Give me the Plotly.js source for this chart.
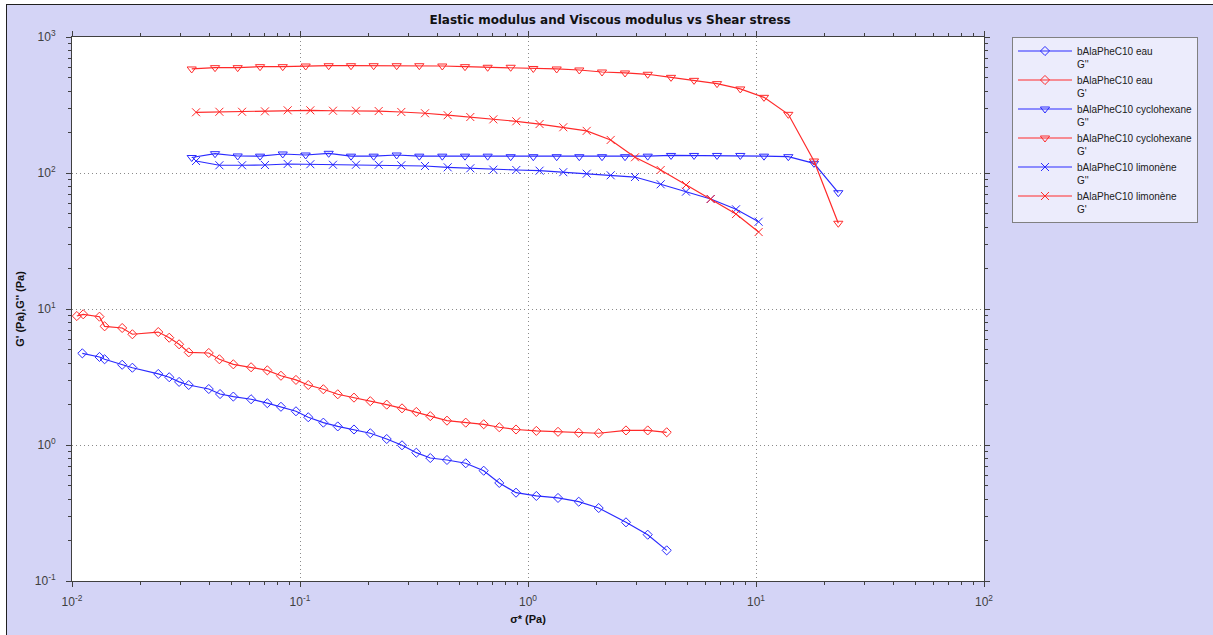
<!DOCTYPE html>
<html>
<head>
<meta charset="utf-8">
<script src="https://cdn.plot.ly/plotly-3.0.1.min.js"></script>
<style>
  html, body { margin: 0; padding: 0; background: #ffffff; }
  #wrap { position: relative; width: 1213px; height: 635px; overflow: hidden; }
  #chart { position: absolute; left: 0; top: 0; width: 1213px; height: 635px; }
  .deco { position: absolute; pointer-events: none; }
</style>
</head>
<body>
<div id="wrap">
  <div id="chart"></div>
  <div class="deco" style="left:0;top:0;width:1213px;height:4px;background:#ffffff;"></div>
  <div class="deco" style="left:0;top:0;width:6px;height:635px;background:#ffffff;"></div>
  <div class="deco" style="left:6px;top:4px;width:1207px;height:1px;background:#202020;"></div>
  <div class="deco" style="left:6px;top:4px;width:1px;height:631px;background:#202020;"></div>
</div>
<script>
// ---- Data ----
// Water (eau)
var stressEauGp  = [0.0105, 0.0112, 0.0132, 0.0139, 0.0166, 0.0184, 0.0239, 0.0267, 0.0295, 0.0325, 0.0398, 0.0443, 0.0510, 0.0610, 0.0719, 0.0825, 0.0960, 0.1087, 0.1266, 0.1464, 0.1725, 0.2034, 0.2401, 0.2802, 0.3237, 0.3728, 0.4412, 0.5332, 0.6393, 0.7482, 0.8860, 1.088, 1.354, 1.669, 2.042, 2.690, 3.350, 4.058];
var eauGp        = [8.88, 9.14, 8.78, 7.46, 7.25, 6.52, 6.77, 6.15, 5.50, 4.80, 4.75, 4.27, 3.92, 3.73, 3.54, 3.23, 3.01, 2.76, 2.57, 2.36, 2.23, 2.10, 1.98, 1.86, 1.75, 1.63, 1.51, 1.46, 1.42, 1.35, 1.30, 1.27, 1.25, 1.23, 1.22, 1.28, 1.28, 1.24];
var stressEauGpp = [0.0111, 0.0132, 0.0139, 0.0166, 0.0184, 0.0239, 0.0267, 0.0295, 0.0325, 0.0398, 0.0446, 0.0510, 0.0610, 0.0719, 0.0825, 0.0960, 0.1087, 0.1266, 0.1464, 0.1725, 0.2034, 0.2401, 0.2802, 0.3237, 0.3728, 0.4412, 0.5332, 0.6393, 0.7482, 0.8860, 1.088, 1.354, 1.669, 2.042, 2.690, 3.350, 4.058];
var eauGpp       = [4.72, 4.44, 4.27, 3.89, 3.70, 3.33, 3.15, 2.91, 2.76, 2.58, 2.37, 2.27, 2.17, 2.03, 1.91, 1.77, 1.60, 1.46, 1.37, 1.30, 1.22, 1.107, 0.995, 0.878, 0.802, 0.776, 0.734, 0.647, 0.526, 0.446, 0.422, 0.408, 0.383, 0.344, 0.270, 0.219, 0.168];

// Cyclohexane
var stressCyc = [0.0335, 0.0424, 0.0533, 0.0668, 0.0840, 0.1059, 0.1336, 0.1674, 0.2104, 0.2655, 0.3336, 0.4208, 0.5293, 0.6654, 0.8395, 1.055, 1.336, 1.679, 2.112, 2.664, 3.350, 4.239, 5.349, 6.746, 8.534, 10.84, 13.86, 17.96, 22.96];
var cycGp     = [582, 595, 595, 605, 605, 612, 615, 615, 615, 615, 615, 612, 605, 599, 599, 587, 582, 572, 553, 544, 532, 505, 480, 454, 415, 360, 270, 122.5, 42.7];
var cycGpp    = [130, 138.7, 133.4, 133, 138, 135.6, 139.6, 133, 133, 135.6, 133, 133, 133, 133, 131.8, 131.8, 131.8, 131.8, 131.8, 131.8, 133, 134.6, 134.6, 134.6, 134.6, 133, 131.8, 117.8, 71.6];

// Limonène
var stressLim = [0.0350, 0.0443, 0.0557, 0.0702, 0.0883, 0.1110, 0.1395, 0.1760, 0.2214, 0.2782, 0.3534, 0.4444, 0.5584, 0.7045, 0.8885, 1.124, 1.428, 1.809, 2.305, 2.946, 3.819, 4.932, 6.329, 8.172, 10.27];
var limGp     = [279.5, 282, 282, 284, 289, 289, 287, 287, 285.5, 281, 275, 266, 258, 248, 240, 229, 217, 204, 175, 130.5, 105.2, 81.6, 64.4, 49.9, 36.8];
var limGpp    = [122.5, 114, 114, 114.5, 116.5, 116, 115, 115, 115, 114, 112.6, 110.1, 108.3, 105.8, 105.2, 104, 101.4, 98.8, 96.2, 93.4, 82.6, 72.9, 64.4, 54.1, 43.8];

var seriesNames = ["bAlaPheC10 eau<br>G''", "bAlaPheC10 eau<br>G'", "bAlaPheC10 cyclohexane<br>G''", "bAlaPheC10 cyclohexane<br>G'", "bAlaPheC10 limonène<br>G''", "bAlaPheC10 limonène<br>G'"];

var xTickVals = [0.01, 0.1, 1, 10, 100];
var xTickText = ["10<sup>-2</sup>", "10<sup>-1</sup>", "10<sup>0</sup>", "10<sup>1</sup>", "10<sup>2</sup>"];
var yTickVals = [0.1, 1, 10, 100, 1000];
var yTickText = ["10<sup>-1</sup>", "10<sup>0</sup>", "10<sup>1</sup>", "10<sup>2</sup>", "10<sup>3</sup>"];

var chartTitle = "Elastic modulus and Viscous modulus vs Shear stress";
var xTitle = "σ* (Pa)";
var yTitle = "G' (Pa),G'' (Pa)";

// ---- Styling ----
var BLUE = "#2a2aff", RED = "#ff2a2a";
var FONT = "Liberation Sans, Arial, sans-serif";
var TFONT = "DejaVu Sans, Verdana, sans-serif";

function minorVals(lo, hi) {
  var out = [];
  for (var e = lo; e < hi; e++) {
    for (var m = 2; m <= 9; m++) out.push(m * Math.pow(10, e));
  }
  return out;
}

function trace(x, y, name, color, symbol, size) {
  return {
    x: x, y: y, name: name, type: "scatter", mode: "lines+markers",
    line: { color: color, width: 1.2 },
    marker: { symbol: symbol, size: size, color: color, line: { color: color, width: 1 } }
  };
}

var data = [
  trace(stressEauGpp, eauGpp, seriesNames[0], BLUE, "diamond-open", 7),
  trace(stressEauGp, eauGp, seriesNames[1], RED, "diamond-open", 7),
  trace(stressCyc, cycGpp, seriesNames[2], BLUE, "triangle-down-open", 8),
  trace(stressCyc, cycGp, seriesNames[3], RED, "triangle-down-open", 8),
  trace(stressLim, limGpp, seriesNames[4], BLUE, "x-thin-open", 8),
  trace(stressLim, limGp, seriesNames[5], RED, "x-thin-open", 8)
];

var axisCommon = {
  type: "log",
  showline: true, linecolor: "#404040", linewidth: 1, mirror: "ticks",
  ticks: "outside", ticklen: 5, tickcolor: "#404040", tickwidth: 1,
  showgrid: true, gridcolor: "#8a8a8a", griddash: "1px,3px", gridwidth: 1,
  zeroline: false,
  tickfont: { family: FONT, size: 12, color: "#404040" },
  tickmode: "array"
};

var layout = {
  width: 1213, height: 635,
  paper_bgcolor: "#d4d4f6",
  plot_bgcolor: "#ffffff",
  margin: { l: 72, r: 229, t: 37, b: 54, pad: 0 },
  font: { family: FONT, size: 11, color: "#000000" },
  title: {
    text: chartTitle, xref: "container", x: 0.503, yref: "container", y: 0.969, yanchor: "middle",
    font: { family: TFONT, size: 12, color: "#111111", weight: "bold" }
  },
  xaxis: Object.assign({}, axisCommon, {
    range: [-2, 2], tickvals: xTickVals, ticktext: xTickText,
    ticklabelstandoff: 5,
    minor: { tickmode: "array", tickvals: minorVals(-2, 2), ticks: "outside", ticklen: 3, tickcolor: "#404040", showgrid: false },
    title: { text: xTitle, standoff: 6, font: { family: FONT, size: 11, color: "#111111", weight: "bold" } }
  }),
  yaxis: Object.assign({}, axisCommon, {
    range: [-1, 3], tickvals: yTickVals, ticktext: yTickText,
    ticklabelstandoff: 8,
    minor: { tickmode: "array", tickvals: minorVals(-1, 3), ticks: "outside", ticklen: 3, tickcolor: "#404040", showgrid: false },
    title: { text: yTitle, standoff: 7, font: { family: FONT, size: 11, color: "#111111", weight: "bold" } }
  }),
  showlegend: true,
  legend: {
    x: 1.0307, xanchor: "left", y: 1, yanchor: "top",
    bgcolor: "#ececfc", bordercolor: "#808080", borderwidth: 1,
    font: { family: FONT, size: 10, color: "#202020" },
    itemwidth: 54, valign: "top", tracegroupgap: 0, traceorder: "normal"
  },
  hovermode: false
};

Plotly.newPlot("chart", data, layout, { staticPlot: true, displayModeBar: false });
</script>
</body>
</html>
